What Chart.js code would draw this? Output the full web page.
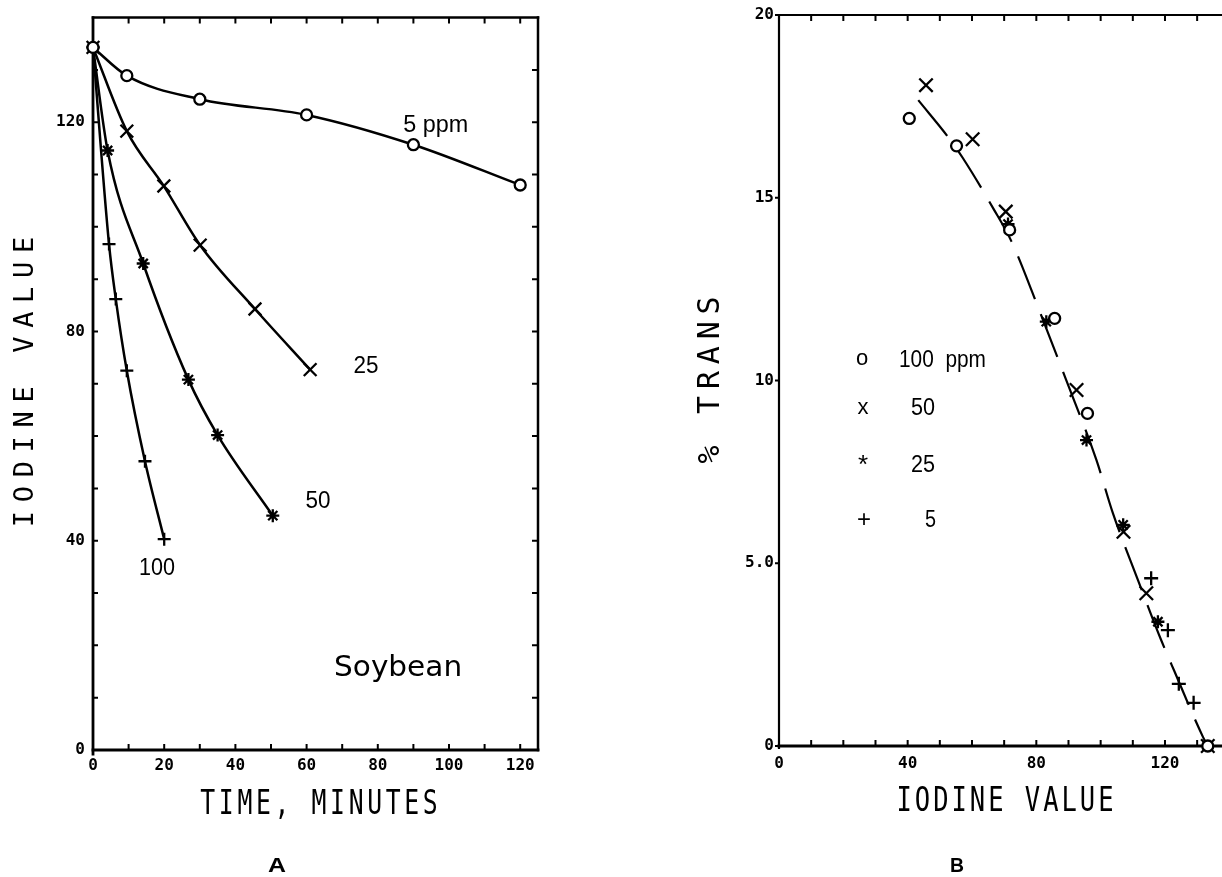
<!DOCTYPE html>
<html>
<head>
<meta charset="utf-8">
<script src="https://cdn.jsdelivr.net/npm/chart.js@4/dist/chart.umd.min.js"></script>
<style>
  html, body { margin: 0; padding: 0; background: #fff; overflow: hidden; width: 1222px; height: 877px; }
  .panel { position: absolute; top: 0; }
  #wrapA { left: 0; width: 560px; height: 877px; }
  #wrapB { left: 600px; width: 660px; height: 877px; }
</style>
</head>
<body>
<div id="wrapA" class="panel"><canvas id="chartA" width="560" height="877"></canvas></div>
<div id="wrapB" class="panel"><canvas id="chartB" width="660" height="877"></canvas></div>
<script>
// ---------- Panel A: iodine value vs. time, soybean oil, four catalyst levels ----------
const timeA5    = [0, 9.5, 30, 60, 90, 120];
const ivA5      = [134.3, 128.9, 124.4, 121.4, 115.7, 108.0];
const timeA25   = [0, 9.5, 19.9, 30.1, 45.5, 61.0];
const ivA25     = [134.3, 118.3, 107.8, 96.5, 84.3, 72.7];
const timeA50   = [0, 4.1, 14.1, 26.8, 35.0, 50.5];
const ivA50     = [134.3, 114.6, 93.0, 70.8, 60.2, 44.8];
const timeA100  = [0, 4.5, 6.4, 9.5, 14.6, 20.0];
const ivA100    = [134.3, 96.7, 86.2, 72.5, 55.2, 40.3];

const xLabelsA  = [0, 20, 40, 60, 80, 100, 120];
const yLabelsA  = [0, 40, 80, 120];
const xMinorA   = [10, 20, 30, 40, 50, 60, 70, 80, 90, 100, 110, 120];
const yMinorA   = [10, 20, 30, 40, 50, 60, 70, 80, 90, 100, 110, 120, 130];

// ---------- Panel B: % trans vs. iodine value ----------
const ivB100    = [40.5, 55.2, 71.7, 85.7, 95.9, 133.3];
const trB100    = [17.17, 16.42, 14.12, 11.70, 9.10, 0];
const ivB50     = [45.7, 60.2, 70.5, 92.5, 107.1, 114.2, 133.3];
const trB50     = [18.08, 16.60, 14.62, 9.74, 5.86, 4.18, 0];
const ivB25     = [71.2, 83.1, 95.6, 107.0, 117.8];
const trB25     = [14.28, 11.61, 8.37, 6.05, 3.40];
const ivB5      = [115.7, 120.9, 124.3, 128.9];
const trB5      = [4.59, 3.17, 1.70, 1.18];
// fitted trend drawn through all catalyst levels
const ivFit     = [43.3, 53.1, 57.2, 66.6, 72.3, 81.1, 89.3, 98.7, 103.8, 111.6, 118.8, 123.0, 131.8, 133.3];
const trFit     = [17.67, 16.60, 16.08, 14.71, 13.80, 11.88, 10.01, 7.82, 6.37, 4.54, 2.90, 2.03, 0.25, 0];

const xLabelsB  = [0, 40, 80, 120];
const yValsB    = [0, 5, 10, 15, 20];
const yTextB    = ['0', '5.0', '10', '15', '20'];
const xMinorB   = [10, 20, 30, 40, 50, 60, 70, 80, 90, 100, 110, 120, 130, 140];

const pts = (xs, ys) => xs.map((v, i) => ({ x: v, y: ys[i] }));

// ---------- drawing helpers ----------
function placeText(chart, it) {
  const ctx = chart.ctx;
  let x, y;
  if (it.at) {
    x = chart.scales.x.getPixelForValue(it.at[0]);
    y = chart.scales.y.getPixelForValue(it.at[1]);
  } else {
    x = it.px[0]; y = it.px[1];
  }
  ctx.save();
  ctx.fillStyle = '#000';
  ctx.font = it.font;
  ctx.textBaseline = 'middle';
  ctx.translate(x, y);
  if (it.rot) ctx.rotate(it.rot * Math.PI / 180);
  if (it.cells) {
    // evenly spaced plotter-style lettering
    const n = it.text.length, cw = it.len / n;
    ctx.textAlign = 'center';
    for (let i = 0; i < n; i++) {
      ctx.save();
      ctx.translate(-it.len / 2 + (i + 0.5) * cw, 0);
      ctx.scale(it.sx || 1, 1);
      ctx.fillText(it.text[i], 0, 0);
      ctx.restore();
    }
  } else {
    const w = ctx.measureText(it.text).width;
    const sx = it.w ? it.w / w : (it.sx || 1);
    ctx.textAlign = it.align || 'center';
    ctx.scale(sx, 1);
    ctx.fillText(it.text, 0, 0);
  }
  ctx.restore();
}

// frame, inward tick marks and free text for one panel
function makeDecor(cfg) {
  return {
    id: 'decor',
    beforeDatasetsDraw(chart) {
      const { ctx, chartArea: a, scales } = chart;
      ctx.save();
      ctx.strokeStyle = '#000';
      ctx.lineCap = 'square';
      cfg.frame.forEach(f => {
        ctx.lineWidth = f.width;
        ctx.beginPath();
        if (f.side === 'top')    { ctx.moveTo(a.left, a.top);    ctx.lineTo(a.right, a.top); }
        if (f.side === 'bottom') { ctx.moveTo(a.left, a.bottom); ctx.lineTo(a.right, a.bottom); }
        if (f.side === 'left')   { ctx.moveTo(a.left, a.top);    ctx.lineTo(a.left, a.bottom + (f.over || 0)); }
        if (f.side === 'right')  { ctx.moveTo(a.right, a.top);   ctx.lineTo(a.right, a.bottom); }
        ctx.stroke();
      });
      ctx.lineCap = 'butt';
      cfg.marks.forEach(t => {
        const sc = scales[t.axis];
        ctx.lineWidth = t.width || 2;
        ctx.beginPath();
        t.values.forEach(v => {
          const p = sc.getPixelForValue(v);
          if (t.side === 'top')    { ctx.moveTo(p, a.top);    ctx.lineTo(p, a.top + t.len); }
          if (t.side === 'bottom') { ctx.moveTo(p, a.bottom); ctx.lineTo(p, a.bottom - t.len); }
          if (t.side === 'left')   { ctx.moveTo(a.left, p);   ctx.lineTo(a.left + t.len, p); }
          if (t.side === 'right')  { ctx.moveTo(a.right, p);  ctx.lineTo(a.right - t.len, p); }
        });
        ctx.stroke();
      });
      ctx.restore();
    },
    afterDraw(chart) {
      cfg.texts.forEach(it => placeText(chart, it));
    }
  };
}

const tickFont = { family: 'DejaVu Sans Mono', weight: 'bold', size: 16 };
const noteFont = '24px "Liberation Sans"';
const titleFont = '"DejaVu Sans Mono"';

function lineSet(label, xs, ys, style, r, fill) {
  return {
    label, data: pts(xs, ys), showLine: true,
    borderColor: '#000', borderWidth: 2.5, backgroundColor: '#000',
    pointStyle: style, pointRadius: r, pointBorderWidth: 2.3,
    pointBorderColor: '#000', pointBackgroundColor: fill || '#000',
    cubicInterpolationMode: 'monotone', clip: false
  };
}

function markSet(label, xs, ys, style, r, fill) {
  return {
    label, data: pts(xs, ys), showLine: false,
    pointStyle: style, pointRadius: r, pointBorderWidth: 2.3,
    pointBorderColor: '#000', pointBackgroundColor: fill || '#000', clip: false
  };
}

// ---------- Panel A ----------
const decorA = makeDecor({
  frame: [
    { side: 'top', width: 2.5 }, { side: 'right', width: 2.5 },
    { side: 'bottom', width: 2.8 }, { side: 'left', width: 2.8, over: 4 }
  ],
  marks: [
    { axis: 'x', side: 'top', values: xMinorA, len: 6 },
    { axis: 'x', side: 'bottom', values: xMinorA, len: 6 },
    { axis: 'y', side: 'left', values: yMinorA, len: 5 },
    { axis: 'y', side: 'right', values: yMinorA, len: 6 }
  ],
  texts: [
    { text: '5 ppm', at: [96.3, 119.4], font: noteFont, w: 65 },
    { text: '25', at: [76.7, 73.3], font: noteFont, w: 25 },
    { text: '50', at: [63.2, 47.6], font: noteFont, w: 25 },
    { text: '100', at: [18.0, 34.7], font: noteFont, w: 36 },
    { text: 'Soybean', at: [85.7, 15.6], font: '28px "DejaVu Sans"', w: 128 },
    { text: 'IODINE VALUE', px: [26, 382], rot: -90, cells: true, len: 299, font: '27px ' + titleFont, sx: 1 },
    { text: 'TIME, MINUTES', px: [319, 805], cells: true, len: 241, font: '33px ' + titleFont, sx: 0.75 },
    { text: 'A', px: [277, 866], font: 'bold 21px "Liberation Sans"', w: 18 }
  ]
});

new Chart(document.getElementById('chartA'), {
  type: 'scatter',
  data: {
    datasets: [
      lineSet('5 ppm', timeA5, ivA5, 'circle', 5.5, '#fff'),
      lineSet('25 ppm', timeA25, ivA25, 'crossRot', 9),
      lineSet('50 ppm', timeA50, ivA50, 'star', 6.5),
      lineSet('100 ppm', timeA100, ivA100, 'cross', 6.5)
    ]
  },
  options: {
    responsive: false, animation: false, devicePixelRatio: 1,
    layout: { padding: { left: 0, top: 15, right: 22, bottom: 0 } },
    plugins: { legend: { display: false }, tooltip: { enabled: false } },
    scales: {
      x: {
        type: 'linear', min: 0, max: 125,
        afterFit(s) { s.height = 127; },
        afterBuildTicks(s) { s.ticks = xLabelsA.map(v => ({ value: v })); },
        grid: { display: true, drawOnChartArea: false, drawTicks: false },
        border: { display: false },
        ticks: { padding: 6, font: tickFont, color: '#000', maxRotation: 0, autoSkip: false }
      },
      y: {
        type: 'linear', min: 0, max: 140,
        afterFit(s) { s.width = 93; },
        afterBuildTicks(s) { s.ticks = yLabelsA.map(v => ({ value: v })); },
        grid: { display: true, drawOnChartArea: false, drawTicks: false },
        border: { display: false },
        ticks: { padding: 8, font: tickFont, color: '#000', autoSkip: false }
      }
    }
  },
  plugins: [decorA]
});

// ---------- Panel B ----------
const offB = 600;
const decorB = makeDecor({
  frame: [
    { side: 'top', width: 2.2 }, { side: 'right', width: 2.2 },
    { side: 'bottom', width: 3 }, { side: 'left', width: 2.2, over: 2 }
  ],
  marks: [
    { axis: 'x', side: 'top', values: xMinorB, len: 6 },
    { axis: 'x', side: 'bottom', values: xMinorB, len: 6 },
    { axis: 'y', side: 'left', values: yValsB, len: -4 }
  ],
  texts: [
    { text: 'o', px: [862 - offB, 359], font: '22px "Liberation Sans"' },
    { text: 'x', px: [863 - offB, 408], font: '22px "Liberation Sans"' },
    { text: '*', px: [863 - offB, 466], font: '26px "Liberation Sans"' },
    { text: '+', px: [864 - offB, 520], font: '24px "Liberation Sans"' },
    { text: '100  ppm', px: [899 - offB, 360], font: noteFont, w: 87, align: 'left' },
    { text: '50', px: [911 - offB, 408], font: noteFont, w: 24, align: 'left' },
    { text: '25', px: [911 - offB, 465], font: noteFont, w: 24, align: 'left' },
    { text: '5', px: [925 - offB, 520], font: noteFont, w: 11, align: 'left' },
    { text: '% TRANS', px: [711 - offB, 380], rot: -90, cells: true, len: 174, font: '30px ' + titleFont, sx: 1 },
    { text: 'IODINE VALUE', px: [1005 - offB, 802], cells: true, len: 220, font: '34px ' + titleFont, sx: 0.75 },
    { text: 'B', px: [957 - offB, 866], font: 'bold 21px "Liberation Sans"', w: 14 }
  ]
});

new Chart(document.getElementById('chartB'), {
  type: 'scatter',
  data: {
    datasets: [
      markSet('100 ppm', ivB100, trB100, 'circle', 5.5, '#fff'),
      markSet('50', ivB50, trB50, 'crossRot', 9.5),
      markSet('25', ivB25, trB25, 'star', 6.5),
      markSet('5', ivB5, trB5, 'cross', 7),
      {
        label: 'trend', data: pts(ivFit, trFit), showLine: true,
        borderColor: '#000', borderWidth: 2.2, borderDash: [46, 16],
        pointRadius: 0, cubicInterpolationMode: 'monotone', clip: false
      }
    ]
  },
  options: {
    responsive: false, animation: false, devicePixelRatio: 1,
    layout: { padding: { left: 0, top: 15, right: 14.6, bottom: 0 } },
    plugins: { legend: { display: false }, tooltip: { enabled: false } },
    scales: {
      x: {
        type: 'linear', min: 0, max: 145,
        afterFit(s) { s.height = 131; },
        afterBuildTicks(s) { s.ticks = xLabelsB.map(v => ({ value: v })); },
        grid: { display: true, drawOnChartArea: false, drawTicks: false },
        border: { display: false },
        ticks: { padding: 8, font: tickFont, color: '#000', maxRotation: 0, autoSkip: false }
      },
      y: {
        type: 'linear', min: 0, max: 20,
        afterFit(s) { s.width = 179; },
        afterBuildTicks(s) { s.ticks = yValsB.map(v => ({ value: v })); },
        grid: { display: true, drawOnChartArea: false, drawTicks: false },
        border: { display: false },
        ticks: {
          padding: 5, font: tickFont, color: '#000', autoSkip: false,
          callback: (v) => yTextB[yValsB.indexOf(v)]
        }
      }
    }
  },
  plugins: [decorB]
});
</script>
</body>
</html>
